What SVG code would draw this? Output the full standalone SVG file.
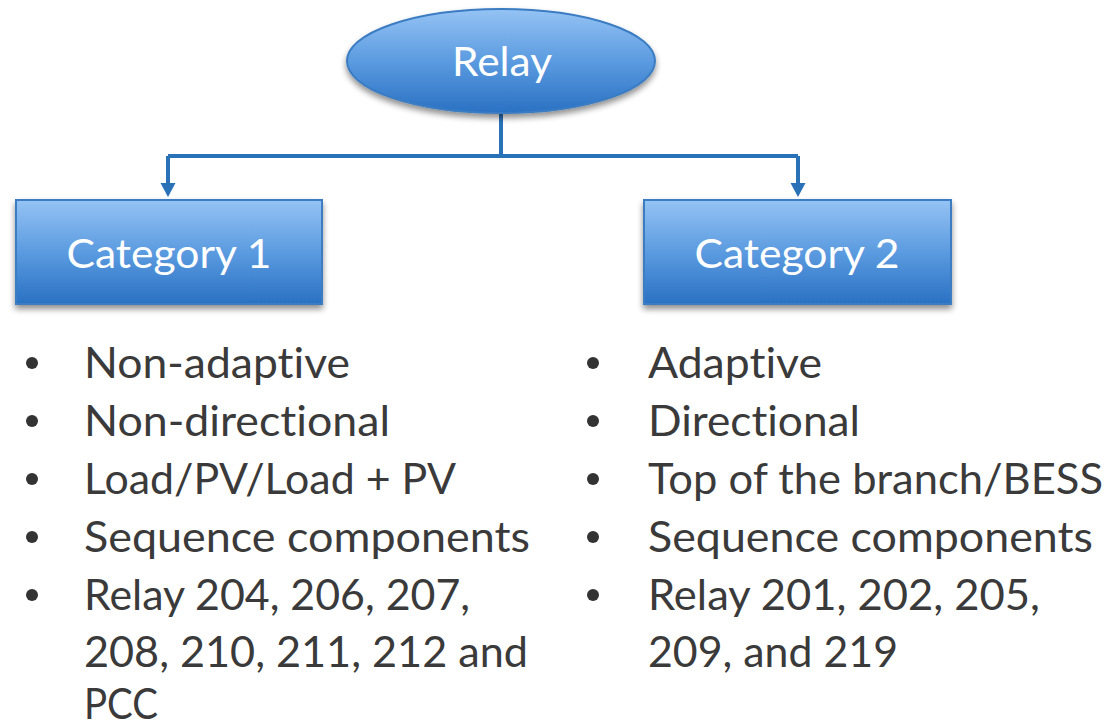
<svg xmlns="http://www.w3.org/2000/svg" width="1109" height="728" viewBox="0 0 1109 728">
<defs>
<linearGradient id="g" x1="0" y1="0" x2="0" y2="1">
<stop offset="0" stop-color="#95c3f4"/>
<stop offset="0.5" stop-color="#5b9be0"/>
<stop offset="1" stop-color="#2a71c3"/>
</linearGradient>
<filter id="sh" x="-10%" y="-10%" width="120%" height="130%">
<feGaussianBlur in="SourceAlpha" stdDeviation="3"/>
<feOffset dx="0" dy="4"/>
<feComponentTransfer><feFuncA type="linear" slope="0.45"/></feComponentTransfer>
<feMerge><feMergeNode/><feMergeNode in="SourceGraphic"/></feMerge>
</filter>
</defs>
<style>
.shape{fill:url(#g);stroke:#3a7cc2;stroke-width:2;filter:url(#sh)}
.lbl{font-family:Lato,"Open Sans","Liberation Sans",sans-serif;font-size:40px;fill:#ffffff;text-anchor:middle;font-variant-ligatures:none}
.item{font-family:Lato,"Open Sans","Liberation Sans",sans-serif;font-size:43px;fill:#3a3a3a;font-variant-ligatures:none}
.conn{fill:none;stroke:#2a72b8;stroke-width:4}
.head{fill:#2a72b8}
.dot{fill:#333333}
</style>
<rect width="1109" height="728" fill="#ffffff"/>
<g id="connectors">
<path class="conn" d="M501,113 V156"/>
<path class="conn" d="M168,156 H798"/>
<path class="conn" d="M168,156 V186"/>
<path class="conn" d="M798,156 V186"/>
<path class="head" d="M160.5,183 L175.5,183 L168,197 Z"/>
<path class="head" d="M790.5,183 L805.5,183 L798,197 Z"/>
</g>
<g id="relay">
<ellipse class="shape" cx="501" cy="61" rx="154" ry="52"/>
<text class="lbl" x="502" y="76" textLength="100" lengthAdjust="spacingAndGlyphs">Relay</text>
</g>
<g id="category1">
<rect class="shape" x="16" y="200" width="306" height="104"/>
<text class="lbl" x="169" y="268" textLength="205" lengthAdjust="spacingAndGlyphs">Category 1</text>
</g>
<g id="category2">
<rect class="shape" x="644" y="200" width="307" height="104"/>
<text class="lbl" x="797" y="268" textLength="205" lengthAdjust="spacingAndGlyphs">Category 2</text>
</g>
<g id="list1">
<circle class="dot" cx="32" cy="363" r="6"/>
<circle class="dot" cx="32" cy="421" r="6"/>
<circle class="dot" cx="32" cy="479" r="6"/>
<circle class="dot" cx="32" cy="537" r="6"/>
<circle class="dot" cx="32" cy="595" r="6"/>
<text class="item" x="84" y="378" textLength="266" lengthAdjust="spacingAndGlyphs">Non-adaptive</text>
<text class="item" x="84" y="436" textLength="306" lengthAdjust="spacingAndGlyphs">Non-directional</text>
<text class="item" x="84" y="494" textLength="372" lengthAdjust="spacingAndGlyphs">Load/PV/Load + PV</text>
<text class="item" x="84" y="552" textLength="446" lengthAdjust="spacingAndGlyphs">Sequence components</text>
<text class="item" x="84" y="610" textLength="386" lengthAdjust="spacingAndGlyphs">Relay 204, 206, 207,</text>
<text class="item" x="84" y="667" textLength="444" lengthAdjust="spacingAndGlyphs">208, 210, 211, 212 and</text>
<text class="item" x="84" y="719" textLength="74" lengthAdjust="spacingAndGlyphs">PCC</text>
</g>
<g id="list2">
<circle class="dot" cx="593" cy="363" r="6"/>
<circle class="dot" cx="593" cy="421" r="6"/>
<circle class="dot" cx="593" cy="479" r="6"/>
<circle class="dot" cx="593" cy="537" r="6"/>
<circle class="dot" cx="593" cy="595" r="6"/>
<text class="item" x="648" y="378" textLength="174" lengthAdjust="spacingAndGlyphs">Adaptive</text>
<text class="item" x="648" y="436" textLength="212" lengthAdjust="spacingAndGlyphs">Directional</text>
<text class="item" x="648" y="494" textLength="455" lengthAdjust="spacingAndGlyphs">Top of the branch/BESS</text>
<text class="item" x="648" y="552" textLength="445" lengthAdjust="spacingAndGlyphs">Sequence components</text>
<text class="item" x="648" y="610" textLength="392" lengthAdjust="spacingAndGlyphs">Relay 201, 202, 205,</text>
<text class="item" x="648" y="667" textLength="250" lengthAdjust="spacingAndGlyphs">209, and 219</text>
</g>
</svg>
